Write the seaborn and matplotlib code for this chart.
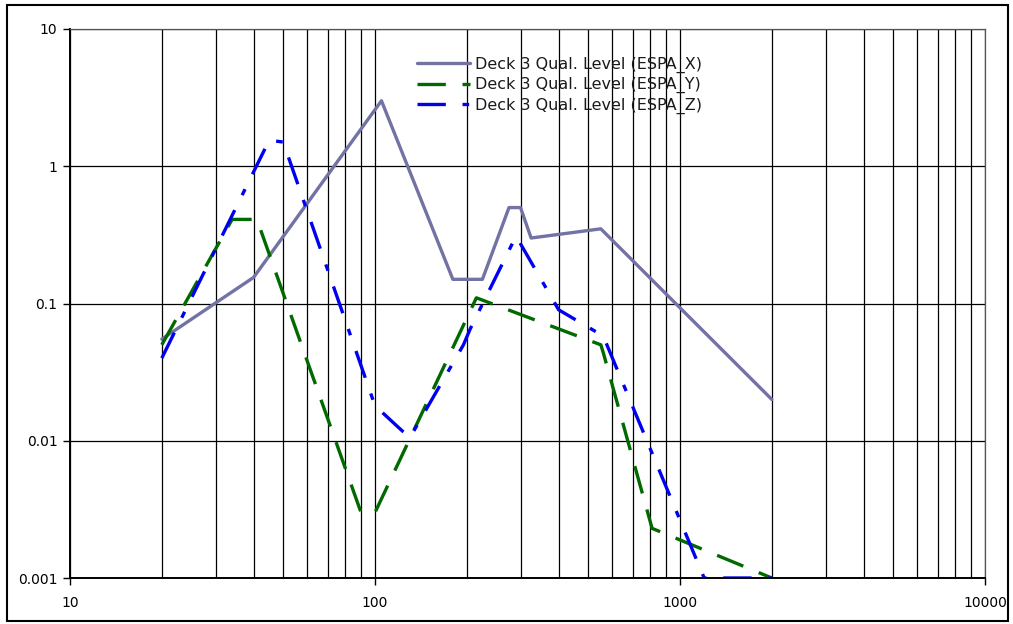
import pandas as pd
import matplotlib
matplotlib.use('Agg')
import matplotlib.pyplot as plt
import matplotlib.ticker as mticker
import seaborn as sns
from matplotlib.patches import Rectangle

# 데이터
x_freq = [20, 40, 105, 180, 225, 275, 300, 325, 550, 2000]
x_level = [0.055, 0.155, 3.0, 0.15, 0.15, 0.5, 0.5, 0.3, 0.35, 0.02]

y_freq = [20, 34, 41, 90, 100, 215, 550, 560, 810, 2000]
y_level = [0.05, 0.41, 0.41, 0.003, 0.003, 0.11, 0.05, 0.044, 0.0023, 0.001]

z_freq = [20, 45, 50, 100, 130, 195, 205, 290, 400, 560, 1200, 2000]
z_level = [0.04, 1.55, 1.5, 0.018, 0.0105, 0.05, 0.065, 0.31, 0.09, 0.058, 0.001, 0.001]

names = ['Deck 3 Qual. Level (ESPA_X)', 'Deck 3 Qual. Level (ESPA_Y)', 'Deck 3 Qual. Level (ESPA_Z)']

df = pd.concat([
    pd.DataFrame({'freq': x_freq, 'level': x_level, 'series': names[0]}),
    pd.DataFrame({'freq': y_freq, 'level': y_level, 'series': names[1]}),
    pd.DataFrame({'freq': z_freq, 'level': z_level, 'series': names[2]}),
], ignore_index=True)

sns.set_style('white')
plt.rcParams['font.family'] = ['DejaVu Sans']

fig = plt.figure(figsize=(10.13, 6.24), dpi=100)
ax = fig.add_axes([70 / 1013, 1 - 578 / 624, 915 / 1013, 549 / 624])

palette = {names[0]: '#7272A4', names[1]: '#006A00', names[2]: '#0000F0'}
dashes = {names[0]: '', names[1]: (8.5, 5), names[2]: (8.5, 5, 2, 5)}

sns.lineplot(data=df, x='freq', y='level', hue='series', style='series',
             palette=palette, dashes=dashes, estimator=None, sort=False,
             lw=2.4, ax=ax)
for ln in ax.get_lines():
    ln.set_dash_capstyle('butt')

ax.set_xscale('log')
ax.set_yscale('log')
ax.set_xlim(10, 10000)
ax.set_ylim(0.001, 10)

fmt = mticker.FuncFormatter(lambda v, p: '%g' % v)
ax.xaxis.set_major_formatter(fmt)
ax.yaxis.set_major_formatter(fmt)
ax.xaxis.set_minor_locator(mticker.LogLocator(base=10, subs=range(2, 10), numticks=20))
ax.xaxis.set_minor_formatter(mticker.NullFormatter())
ax.yaxis.set_minor_locator(mticker.NullLocator())

ax.grid(True, which='major', axis='both', color='black', lw=0.9)
ax.grid(True, which='minor', axis='x', color='black', lw=0.9)
ax.tick_params(axis='both', which='major', direction='out', length=5, width=1,
               labelsize=10, colors='black', left=True, bottom=True)
ax.tick_params(axis='x', which='minor', length=0)
ax.tick_params(axis='x', pad=8)
ax.tick_params(axis='y', pad=4)

for s in ['left', 'bottom']:
    ax.spines[s].set_color('black')
    ax.spines[s].set_linewidth(1.4)
for s in ['top', 'right']:
    ax.spines[s].set_color('#555555')
    ax.spines[s].set_linewidth(0.9)

ax.set_xlabel('')
ax.set_ylabel('')

handles, labels = ax.get_legend_handles_labels()
hl = [(h, l) for h, l in zip(handles, labels) if l in names]
leg = ax.legend([h for h, l in hl], [l for h, l in hl], loc='upper left',
                bbox_to_anchor=(417 / 1013, 1 - 57 / 624), bbox_transform=fig.transFigure,
                frameon=False, fontsize=11.5, handlelength=3.3, handletextpad=0.3,
                labelspacing=0.25, borderaxespad=0, borderpad=0)
for t in leg.get_texts():
    t.set_color('#1a1a1a')

fig.patches.append(Rectangle((7 / 1013, 3 / 624), 1001 / 1013, 616 / 624,
                             transform=fig.transFigure, fill=False,
                             edgecolor='black', lw=1.5))

fig.savefig('out.png', dpi=100)
